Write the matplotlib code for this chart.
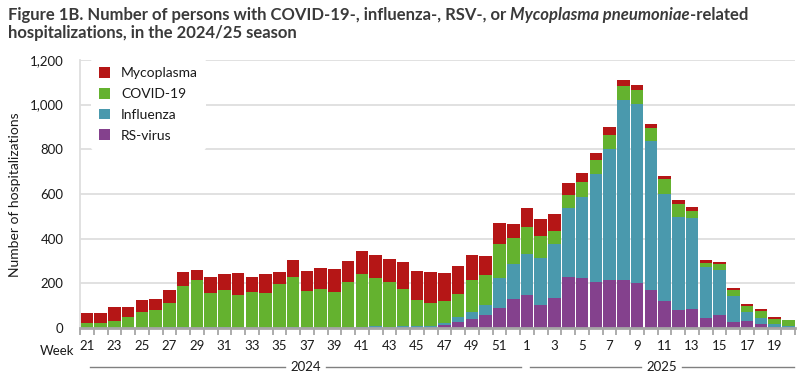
import numpy as np
import matplotlib
matplotlib.use("Agg")
from matplotlib import pyplot as plt
import matplotlib.transforms as mtransforms
from matplotlib.text import Annotation

# weeks 21-52 of 2024 then 1-20 of 2025
weeks = list(range(21, 53)) + list(range(1, 21))

rsv = [0, 0, 0, 0, 0, 0, 0, 0, 0, 0,
       0, 0, 0, 0, 0, 0, 0, 0, 0, 0,
       0, 0, 0, 0, 0, 0, 13, 27, 40, 58,
       90, 130,
       148, 103, 134, 228, 224, 206, 215, 215, 201, 170,
       121, 81, 85, 45, 58, 27, 31, 18, 4, 0]
flu = [0, 0, 0, 0, 0, 0, 3, 3, 1, 3,
       3, 0, 0, 0, 0, 3, 0, 0, 0, 0,
       4, 8, 5, 8, 8, 8, 9, 22, 32, 45,
       134, 157,
       183, 210, 242, 309, 363, 484, 586, 806, 802, 667,
       479, 416, 408, 228, 202, 116, 41, 27, 14, 9]
covid = [22, 22, 31, 49, 72, 80, 109, 185, 214, 153,
         167, 148, 161, 157, 197, 225, 166, 175, 161, 206,
         238, 216, 201, 167, 117, 104, 99, 103, 143, 134,
         152, 116,
         121, 99, 58, 59, 67, 62, 63, 63, 63, 59,
         67, 58, 31, 18, 27, 27, 27, 31, 22, 27]
myco = [45, 45, 63, 45, 53, 50, 58, 62, 44, 72,
        72, 98, 67, 85, 54, 76, 89, 94, 103, 94,
        103, 102, 102, 120, 130, 139, 125, 125, 111, 85,
        94, 63,
        85, 76, 76, 53, 40, 32, 36, 26, 22, 17,
        14, 18, 18, 13, 9, 9, 8, 9, 9, 0]

c_myco = "#b51616"
c_covid = "#64b22f"
c_flu = "#4a99ad"
c_rsv = "#84418d"

plt.rcParams['font.family'] = ['Lato', 'DejaVu Sans']

fig = plt.figure(figsize=(8, 3.78), dpi=100)
ax = fig.add_axes([0.1, 0.1323, 0.894, 0.709])

x = np.arange(len(weeks))
rsv = np.array(rsv)
flu = np.array(flu)
covid = np.array(covid)
myco = np.array(myco)

w = 0.91
ax.bar(x, rsv, w, color=c_rsv, label="RS-virus", zorder=2)
ax.bar(x, flu, w, bottom=rsv, color=c_flu, label="Influenza", zorder=2)
ax.bar(x, covid, w, bottom=rsv + flu, color=c_covid, label="COVID-19", zorder=2)
ax.bar(x, myco, w, bottom=rsv + flu + covid, color=c_myco, label="Mycoplasma", zorder=2)

ax.set_xlim(-0.5, len(weeks) - 0.5)
ax.set_ylim(0, 1200)
ax.set_yticks(range(0, 1201, 200))
ax.set_yticklabels([f"{v:,}" for v in range(0, 1201, 200)])
ax.yaxis.grid(True, color="#dedede", linewidth=1.3, zorder=0)
ax.set_axisbelow(True)
ax.tick_params(axis='y', length=0, pad=12, labelsize=9.5, labelcolor="#1a1a1a")

ax.set_xticks(x[::2])
ax.set_xticklabels([str(wk) for wk in weeks[::2]])
ax.set_xticks(np.arange(-0.5, len(weeks)), minor=True)
ax.tick_params(axis='x', which='major', length=0, pad=9, labelsize=9.5, labelcolor="#1a1a1a")
ax.tick_params(axis='x', which='minor', length=5, width=1.3, color="#a6a6a6")

for s in ['top', 'right']:
    ax.spines[s].set_visible(False)
ax.spines['left'].set_color("#dedede")
ax.spines['left'].set_linewidth(1.3)
ax.spines['bottom'].set_color("#a6a6a6")
ax.spines['bottom'].set_linewidth(2)

fig.text(15 / 800, 1 - 195 / 378, "Number of hospitalizations", rotation=90, ha='center', va='center',
         fontsize=10, color="#1a1a1a")

# "Week" label and the year brackets below the axis
trans = mtransforms.blended_transform_factory(ax.transData, ax.transAxes)
ax.text(-0.9, -0.065, "Week", transform=trans, ha='right', va='top', fontsize=9.5, color="#1a1a1a")
for x0, x1, yr in [(0.2, 31.6, "2024"), (32.2, 51.4, "2025")]:
    xm = (x0 + x1) / 2
    ax.plot([x0, xm - 1.5], [-0.145, -0.145], transform=trans, color="#808080", lw=1, clip_on=False)
    ax.plot([xm + 1.5, x1], [-0.145, -0.145], transform=trans, color="#808080", lw=1, clip_on=False)
    ax.text(xm, -0.145, yr, transform=trans, ha='center', va='center', fontsize=9.5, color="#1a1a1a")

# legend, reversed order
h, l = ax.get_legend_handles_labels()
leg = ax.legend(h[::-1], l[::-1], loc='upper left', bbox_to_anchor=(0.005, 1.03), frameon=True,
                fontsize=10, handlelength=0.8, handleheight=0.8, handletextpad=0.8,
                labelspacing=0.62, borderpad=0.6)
leg.get_frame().set_edgecolor('none')
leg.get_frame().set_facecolor('white')
leg.get_frame().set_alpha(1)
for t in leg.get_texts():
    t.set_color("#1a1a1a")

# title with italic part
tc = "#3a3a3a"
fs = 12
t1 = fig.text(8 / 800, 1 - 20 / 378, "Figure 1B. Number of persons with COVID-19-, influenza-, RSV-, or ",
              fontsize=fs, fontweight='bold', color=tc, va='baseline', ha='left')
a2 = fig.add_artist(Annotation("Mycoplasma pneumoniae", xy=(1, 0), xycoords=t1,
                               va='bottom', ha='left', fontsize=fs, fontweight='bold',
                               fontstyle='italic', color=tc))
a3 = fig.add_artist(Annotation("-related", xy=(1, 0), xycoords=a2,
                               va='bottom', ha='left', fontsize=fs, fontweight='bold', color=tc))
fig.text(8 / 800, 1 - 38 / 378, "hospitalizations, in the 2024/25 season",
         fontsize=fs, fontweight='bold', color=tc, va='baseline', ha='left')

fig.savefig("out.png", dpi=100)
